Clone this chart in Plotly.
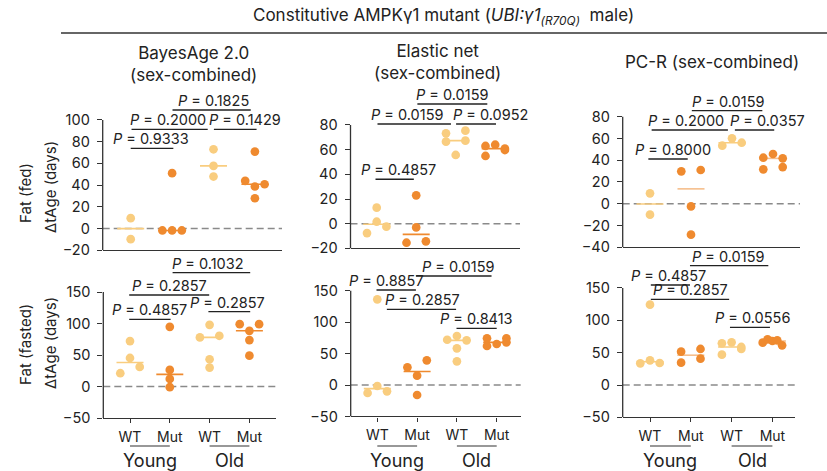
import numpy as np
import plotly.graph_objects as go

W, H = 827, 471

# ---------------------------------------------------------------- data
TICK_TEXT = ["WT", "Mut", "WT", "Mut"]
AGE_LABELS = ["Young", "Old"]
CLOCK_TITLES = ["BayesAge 2.0<br>(sex-combined)", "Elastic net<br>(sex-combined)", "PC-R (sex-combined)"]
DIET_LABELS = ["Fat (fed)", "Fat (fasted)"]
Y_TITLE = "ΔtAge (days)"
MAIN_TITLE = ("Constitutive AMPKγ1 mutant (<i>UBI:γ1</i><sub><i>(R70Q)</i></sub>"
              "\u00a0\u00a0male)")

# ΔtAge (days) per animal; groups = young WT, young Mut, old WT, old Mut (table order)
bayes_fed = [[9.5, -9.8], [51.0, -1.8, -1.8, -1.8], [73.0, 57.7, 47.9],
             [70.9, 43.9, 38.7, 40.8, 27.9]]
enet_fed = [[-7.6, 13.0, -2.4, 1.6], [-15.4, 23.0, -3.0, -14.3],
            [73.2, 75.4, 66.5, 67.3, 55.7], [54.9, 63.0, 64.0, 59.7, 60.8]]
pcr_fed = [[9.5, -10.1], [29.8, 31.0, -2.5, -28.5], [53.4, 60.1, 56.1],
           [42.3, 45.7, 41.7, 31.6, 33.7]]
bayes_fasted = [[72.1, 45.3, 21.1, 31.1], [94.7, 26.3, 12.1, -1.1],
                [97.9, 77.9, 80.5, 43.2, 30.0], [98.9, 88.4, 98.9, 73.7, 48.9]]
enet_fasted = [[136.2, -12.7, -1.6, -10.1], [28.1, 39.2, 14.8, -15.9],
               [72.0, 77.9, 71.0, 58.3, 37.6], [74.2, 74.2, 62.0, 65.2, 67.8]]
pcr_fasted = [[124.2, 33.5, 38.1, 34.0], [51.5, 55.7, 34.5, 40.7],
              [64.4, 66.0, 46.9, 55.7, 58.8], [65.5, 70.6, 68.0, 69.0, 61.3]]

# P values of the pairwise comparisons in each panel (lowest bracket first)
bayes_fed_p = ["0.9333", "0.2000", "0.1429", "0.1825"]
enet_fed_p = ["0.4857", "0.0159", "0.0952", "0.0159"]
pcr_fed_p = ["0.8000", "0.2000", "0.0357", "0.0159"]
bayes_fasted_p = ["0.4857", "0.2857", "0.2857", "0.1032"]
enet_fasted_p = ["0.8413", "0.2857", "0.8857", "0.0159"]
pcr_fasted_p = ["0.0556", "0.2857", "0.4857", "0.0159"]

# y tick values
ticks_bayes_fed = [-20, 0, 20, 40, 60, 80, 100]
ticks_enet_fed = [-20, 0, 20, 40, 60, 80]
ticks_pcr_fed = [-40, -20, 0, 20, 40, 60, 80]
ticks_fasted = [-50, 0, 50, 100, 150]

# ---------------------------------------------------------------- styling / layout
FONT = "Inter"
LIGHT = "#F9CD7F"
DARK = "#EF8A2F"
GROUP_COLORS = [LIGHT, DARK, LIGHT, DARK]
AXIS = "#333333"
TXT = "#222222"

# bracket layout per panel: (start, end, height, label x) in axis units
BR_BAYES_FED = [(0.0, 1.03, 73.9, 0.48), (0.02, 1.86, 91.4, 0.89),
                (2.01, 3.04, 91.4, 2.76), (1.01, 2.90, 109.2, 2.01)]
BR_ENET_FED = [(-0.03, 0.94, 36.0, 0.56), (0.02, 1.88, 80.8, 0.76),
               (2.01, 3.02, 80.8, 2.89), (1.03, 2.80, 97.0, 1.91)]
BR_PCR_FED = [(-0.04, 0.92, 41.1, 0.56), (0.04, 1.90, 67.8, 0.89),
              (2.07, 3.03, 67.8, 2.87), (1.02, 2.74, 85.6, 1.91)]
BR_BAYES_FAST = [(-0.02, 1.02, 106.6, 0.48), (-0.02, 1.99, 145.2, 0.98),
                 (1.97, 3.02, 118.7, 2.46), (1.07, 3.02, 180.6, 1.96)]
BR_ENET_FAST = [(1.99, 3.00, 90.2, 2.49), (0.24, 1.98, 120.4, 1.13),
                (-0.02, 0.97, 151.1, 0.24), (0.97, 2.87, 173.4, 2.04)]
BR_PCR_FAST = [(1.96, 2.94, 89.2, 2.51), (0.02, 1.94, 132.5, 0.99),
               (0.02, 0.98, 154.6, 0.46), (0.98, 2.90, 184.5, 1.91)]

# panel frames in pixels: left/right edge, first category centre, category pitch,
# pixel row of y = 0 and pixels per y unit; opacity of the Mut median bars
PANELS = [
    dict(data=bayes_fed, p=bayes_fed_p, ticks=ticks_bayes_fed, br=BR_BAYES_FED,
         left=102.7, right=282.0, c0=130.7, sp=41.4, y0=228.5, ppu=1.085, bottom=False,
         mut_med=1.0),
    dict(data=enet_fed, p=enet_fed_p, ticks=ticks_enet_fed, br=BR_ENET_FED,
         left=350.5, right=520.0, c0=376.7, sp=39.5, y0=223.7, ppu=1.234, bottom=False,
         mut_med=1.0),
    dict(data=pcr_fed, p=pcr_fed_p, ticks=ticks_pcr_fed, br=BR_PCR_FED,
         left=622.7, right=800.0, c0=650.0, sp=41.0, y0=203.7, ppu=1.087, bottom=False,
         mut_med=0.55),
    dict(data=bayes_fasted, p=bayes_fasted_p, ticks=ticks_fasted, br=BR_BAYES_FAST,
         left=103.3, right=275.7, c0=130.0, sp=39.8, y0=386.5, ppu=0.630, bottom=True,
         mut_med=1.0),
    dict(data=enet_fasted, p=enet_fasted_p, ticks=ticks_fasted, br=BR_ENET_FAST,
         left=350.7, right=520.7, c0=377.3, sp=39.8, y0=385.0, ppu=0.6287, bottom=True,
         mut_med=1.0),
    dict(data=pcr_fasted, p=pcr_fasted_p, ticks=ticks_fasted, br=BR_PCR_FAST,
         left=622.7, right=795.0, c0=650.0, sp=40.8, y0=385.0, ppu=0.6467, bottom=True,
         mut_med=0.55),
]

DOT_STEP_PX = 9.7      # horizontal spacing between neighbouring dots
ROW_PX = 7.2           # dots closer than this vertically share a row
MEDIAN_HALF_PX = 13.5


def swarm_slots(values, ppu):
    """Row-based dot layout: values within ROW_PX of a row's lowest dot are
    spread symmetrically, in table order, from -1 to +1."""
    vals = np.asarray(values, dtype=float)
    order = np.argsort(vals, kind="stable")
    rows, cur = [], []
    for idx in order:
        if cur and (vals[idx] - vals[cur[0]]) * ppu >= ROW_PX:
            rows.append(cur)
            cur = []
        cur.append(idx)
    if cur:
        rows.append(cur)
    slots = np.zeros(len(vals))
    for r in rows:
        r = sorted(r)
        pos = np.linspace(-1, 1, len(r)) if len(r) > 1 else [0.0]
        for k, idx in enumerate(r):
            slots[idx] = pos[k]
    return slots


def ypx_to_paper(ypx):
    return 1 - ypx / H


def axis_ids(k):
    s = "" if k == 1 else str(k)
    return "x" + s, "y" + s, "xaxis" + s, "yaxis" + s


fig = go.Figure()
shapes, annotations = [], []

for k, pnl in enumerate(PANELS, start=1):
    xa, ya, xkey, ykey = axis_ids(k)
    sp, ppu = pnl["sp"], pnl["ppu"]
    ymin, ytick_top = pnl["ticks"][0], pnl["ticks"][-1]
    ytop = max(b[2] for b in pnl["br"]) + 4 / ppu

    xdom = [pnl["left"] / W, pnl["right"] / W]
    xrng = [(pnl["left"] - pnl["c0"]) / sp, (pnl["right"] - pnl["c0"]) / sp]
    ydom = [ypx_to_paper(pnl["y0"] - ymin * ppu), ypx_to_paper(pnl["y0"] - ytop * ppu)]

    fig.layout[xkey] = dict(
        domain=xdom, range=xrng, anchor=ya, showgrid=False, zeroline=False,
        showline=True, linecolor=AXIS, linewidth=1.3,
        ticks="outside" if pnl["bottom"] else "", ticklen=4, tickwidth=1.2, tickcolor=AXIS,
        tickmode="array", tickvals=[0, 1, 2, 3], ticktext=TICK_TEXT,
        showticklabels=pnl["bottom"], ticklabelstandoff=2, automargin=False,
        tickfont=dict(family=FONT, size=14, color=TXT), fixedrange=True,
    )
    fig.layout[ykey] = dict(
        domain=ydom, range=[ymin, ytop], anchor=xa, showgrid=False, zeroline=False,
        showline=False, ticks="outside", ticklen=5, tickwidth=1.2, tickcolor=AXIS,
        tickmode="array", tickvals=pnl["ticks"], ticklabelstandoff=4, automargin=False,
        tickfont=dict(family=FONT, size=14.5, color=TXT), fixedrange=True,
    )

    # y spine limited to the tick span, dashed zero reference
    shapes.append(dict(type="line", xref=f"{xa} domain", yref=ya, x0=0, x1=0,
                       y0=ymin, y1=ytick_top, line=dict(color=AXIS, width=1.3), layer="above"))
    shapes.append(dict(type="line", xref=f"{xa} domain", yref=ya, x0=0, x1=1,
                       y0=0, y1=0, line=dict(color="#8a8a8a", width=1.4, dash="7px,4px"),
                       layer="below"))

    step = DOT_STEP_PX / sp
    half = MEDIAN_HALF_PX / sp
    for g, vals in enumerate(pnl["data"]):
        med = float(np.median(vals))
        fig.add_trace(go.Scatter(
            x=[g - half, g + half], y=[med, med], mode="lines",
            line=dict(color=GROUP_COLORS[g], width=1.6),
            opacity=pnl["mut_med"] if g % 2 else 1.0,
            xaxis=xa, yaxis=ya, showlegend=False, hoverinfo="skip"))
        slots = swarm_slots(vals, ppu)
        fig.add_trace(go.Scatter(
            x=g + slots * step, y=vals, mode="markers",
            marker=dict(size=8.7, color=GROUP_COLORS[g], line=dict(width=0)),
            xaxis=xa, yaxis=ya, showlegend=False, hoverinfo="skip", cliponaxis=False))

    # comparison brackets
    for (x0, x1, hgt, tx), pv in zip(pnl["br"], pnl["p"]):
        shapes.append(dict(type="line", xref=xa, yref=ya, x0=x0, x1=x1, y0=hgt, y1=hgt,
                           line=dict(color=TXT, width=1.3), layer="above"))
        annotations.append(dict(x=tx, y=hgt, xref=xa, yref=ya, text=f"<i>P</i> = {pv}",
                                showarrow=False, yanchor="middle", xanchor="center", yshift=9.5,
                                font=dict(family=FONT, size=14.5, color=TXT)))

    # age-group labels under the bottom row
    if pnl["bottom"]:
        for a, lab in enumerate(AGE_LABELS):
            shapes.append(dict(type="line", xref=xa, yref="paper", x0=2 * a, x1=2 * a + 1,
                               y0=ypx_to_paper(446), y1=ypx_to_paper(446),
                               line=dict(color=AXIS, width=1.2)))
            annotations.append(dict(x=2 * a + 0.5, y=ypx_to_paper(460.5), xref=xa, yref="paper",
                                    text=lab, showarrow=False, yanchor="middle",
                                    xanchor="center",
                                    font=dict(family=FONT, size=18, color=TXT)))

# column titles
for cx, cy, txt in [(193, 64, CLOCK_TITLES[0]), (437, 62.5, CLOCK_TITLES[1]),
                    (712, 62, CLOCK_TITLES[2])]:
    annotations.append(dict(x=cx / W, y=ypx_to_paper(cy), xref="paper", yref="paper",
                            text=txt, showarrow=False, yanchor="middle", xanchor="center",
                            font=dict(family=FONT, size=17, color=TXT)))

# row titles
for (cy1, cy2), lab in zip([(193, 187), (345, 343)], DIET_LABELS):
    annotations.append(dict(x=25 / W, y=ypx_to_paper(cy1), xref="paper", yref="paper",
                            text=lab, textangle=-90, showarrow=False,
                            xanchor="center", yanchor="middle",
                            font=dict(family=FONT, size=15, color=TXT)))
    annotations.append(dict(x=50 / W, y=ypx_to_paper(cy2), xref="paper", yref="paper",
                            text=Y_TITLE, textangle=-90, showarrow=False,
                            xanchor="center", yanchor="middle",
                            font=dict(family=FONT, size=15, color=TXT)))

# overall title with rule
annotations.append(dict(x=443 / W, y=ypx_to_paper(17), xref="paper", yref="paper",
                        text=MAIN_TITLE, showarrow=False, yanchor="middle", xanchor="center",
                        font=dict(family=FONT, size=17, color=TXT)))
shapes.append(dict(type="line", xref="paper", yref="paper", x0=61 / W, x1=1,
                   y0=ypx_to_paper(33), y1=ypx_to_paper(33), line=dict(color=AXIS, width=1.3)))

fig.update_layout(
    width=W, height=H, margin=dict(l=0, r=0, t=0, b=0, pad=0, autoexpand=False),
    paper_bgcolor="white", plot_bgcolor="rgba(0,0,0,0)",
    shapes=shapes, annotations=annotations, showlegend=False, hovermode=False,
)

fig.write_html("out.html")
